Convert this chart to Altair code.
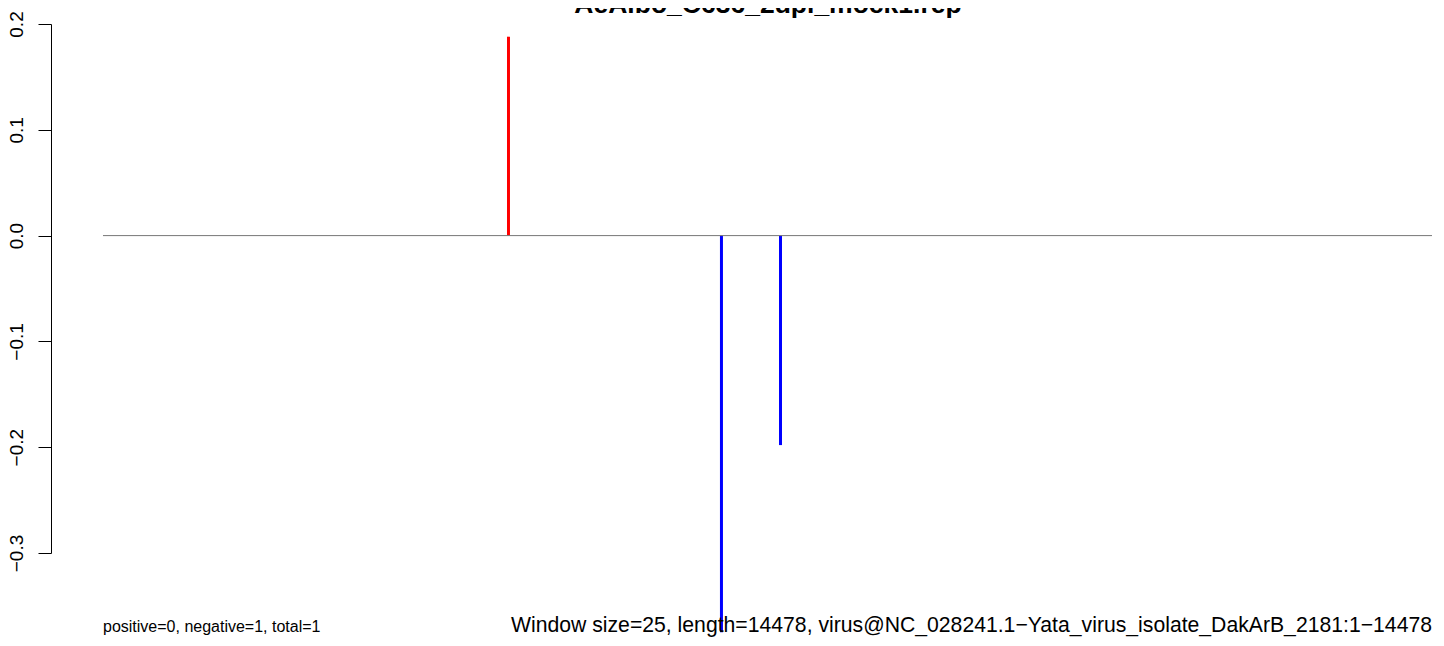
import altair as alt
import pandas as pd

title_text = "AeAlbo_C636_2dpi_mock1.rep"
genome_length = 14478
positions = [4418, 6738, 7381]
scores = [0.188, -0.375, -0.198]
strands = ["positive", "negative", "negative"]
y_ticks = [0.2, 0.1, 0.0, -0.1, -0.2, -0.3]
left_note = "positive=0, negative=1, total=1"
right_note = "Window size=25, length=14478, virus@NC_028241.1\u2212Yata_virus_isolate_DakArB_2181:1\u221214478"

FONT = "Liberation Sans"
W, H = 1385, 529
X_DOMAIN = [-565.4, 14521.6]

bars = pd.DataFrame({"pos": positions, "score": scores, "strand": strands})
zero_line = pd.DataFrame({"start": [1], "end": [genome_length], "y": [0.0]})
left_df = pd.DataFrame({"x": [1], "label": [left_note]})
right_df = pd.DataFrame({"x": [genome_length], "label": [right_note]})
title_df = pd.DataFrame({"label": [title_text]})

xs = alt.Scale(domain=X_DOMAIN, nice=False, zero=False)
ys = alt.Scale(domain=[min(y_ticks), max(y_ticks)], nice=False, zero=False)

y_axis = alt.Axis(
    values=y_ticks,
    format=".1f",
    labelAngle=270,
    labelAlign="center",
    labelBaseline="alphabetic",
    labelPadding=16,
    labelFont=FONT,
    labelFontSize=19,
    labelColor="black",
    tickSize=13,
    tickColor="black",
    tickWidth=1,
    domain=True,
    domainColor="black",
    domainWidth=1,
    grid=False,
    title=None,
)

zero = alt.Chart(zero_line).mark_rule(color="#777777", strokeWidth=1).encode(
    x=alt.X("start:Q", scale=xs, axis=None),
    x2="end:Q",
    y=alt.Y("y:Q", scale=ys, axis=None),
)

spikes = alt.Chart(bars).mark_rule(strokeWidth=3).encode(
    x=alt.X("pos:Q", scale=xs, axis=None),
    y=alt.Y("score:Q", scale=ys, axis=y_axis),
    y2=alt.datum(0),
    color=alt.Color(
        "strand:N",
        scale=alt.Scale(domain=["positive", "negative"], range=["#FF0000", "#0000FF"]),
        legend=None,
    ),
)

left_text = alt.Chart(left_df).mark_text(
    align="left", baseline="alphabetic", font=FONT, fontSize=16, color="black"
).encode(x=alt.X("x:Q", scale=xs, axis=None), y=alt.value(608), text="label:N")

right_text = alt.Chart(right_df).mark_text(
    align="right", baseline="alphabetic", font=FONT, fontSize=21.2, color="black"
).encode(x=alt.X("x:Q", scale=xs, axis=None), y=alt.value(608), text="label:N")

title_mark = alt.Chart(title_df).mark_text(
    align="center", baseline="alphabetic", font=FONT, fontSize=26.5,
    fontWeight="bold", color="black"
).encode(x=alt.value(717), y=alt.value(-11), text="label:N")

chart = (
    alt.layer(spikes, zero, left_text, right_text, title_mark)
    .resolve_axis(y="independent")
    .properties(
        width=W,
        height=H,
        padding={"left": 43, "top": 16, "right": 0, "bottom": 85},
        autosize=alt.AutoSizeParams(type="none"),
        background="white",
    )
    .configure_view(stroke=None)
)

chart.save("out.html", embed_options={"renderer": "svg", "actions": False})
